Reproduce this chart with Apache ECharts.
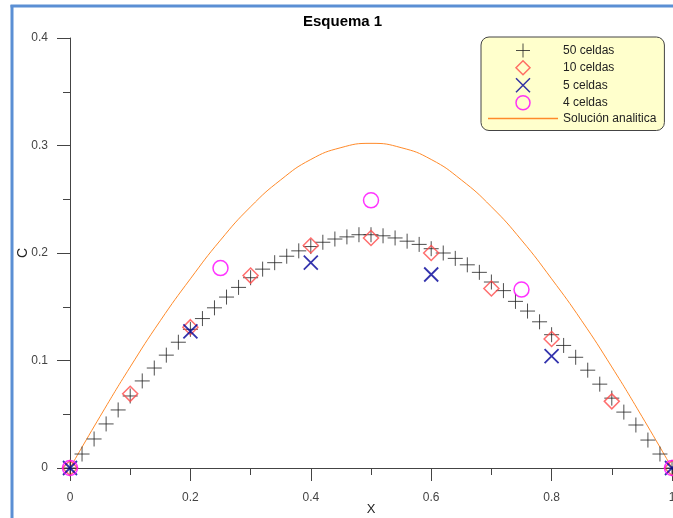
<!DOCTYPE html>
<html>
<head>
<meta charset="utf-8">
<title>Esquema 1</title>
<script src="https://cdn.jsdelivr.net/npm/echarts@6/dist/echarts.min.js"></script>
<style>
  html, body { margin: 0; padding: 0; background: #fff; }
  #chart { width: 673px; height: 518px; }
</style>
</head>
<body>
<div id="chart"></div>
<script>
// 50 celdas
const x50 = [0, 0.02, 0.04, 0.06, 0.08, 0.10, 0.12, 0.14, 0.16, 0.18,
  0.20, 0.22, 0.24, 0.26, 0.28, 0.30, 0.32, 0.34, 0.36, 0.38,
  0.40, 0.42, 0.44, 0.46, 0.48, 0.50, 0.52, 0.54, 0.56, 0.58,
  0.60, 0.62, 0.64, 0.66, 0.68, 0.70, 0.72, 0.74, 0.76, 0.78,
  0.80, 0.82, 0.84, 0.86, 0.88, 0.90, 0.92, 0.94, 0.96, 0.98, 1.00]
const c50 = [0, 0.013, 0.027, 0.041, 0.054, 0.067, 0.081, 0.093, 0.105, 0.117,
  0.129, 0.139, 0.149, 0.159, 0.168, 0.177, 0.185, 0.191, 0.197, 0.202,
  0.206, 0.210, 0.213, 0.215, 0.217, 0.217, 0.216, 0.214, 0.211, 0.208,
  0.204, 0.200, 0.195, 0.189, 0.182, 0.173, 0.165, 0.155, 0.146, 0.136,
  0.124, 0.114, 0.103, 0.091, 0.078, 0.065, 0.052, 0.040, 0.026, 0.013, 0]

// 10 celdas
const x10 = [0, 0.1, 0.2, 0.3, 0.4, 0.5, 0.6, 0.7, 0.8, 0.9, 1]
const c10 = [0, 0.069, 0.131, 0.179, 0.207, 0.214, 0.200, 0.167, 0.120, 0.062, 0]

// 5 celdas
const x5 = [0, 0.2, 0.4, 0.6, 0.8, 1]
const c5 = [0, 0.127, 0.191, 0.180, 0.104, 0]

// 4 celdas
const x4 = [0, 0.25, 0.5, 0.75, 1]
const c4 = [0, 0.186, 0.249, 0.166, 0]

// solucion analitica
const xAn = [0, 0.05, 0.10, 0.15, 0.20, 0.25, 0.30, 0.35, 0.40, 0.45, 0.50,
  0.55, 0.60, 0.65, 0.70, 0.75, 0.80, 0.85, 0.90, 0.95, 1.00]
const cAn = [0, 0.048, 0.094, 0.137, 0.176, 0.212, 0.243, 0.268, 0.287, 0.298, 0.302,
  0.298, 0.287, 0.268, 0.243, 0.212, 0.176, 0.137, 0.094, 0.048, 0]

const xTicks = [0, 0.2, 0.4, 0.6, 0.8, 1]
const yTicks = [0, 0.1, 0.2, 0.3, 0.4]

const pair = (xs, ys) => xs.map((x, i) => [x, ys[i]])

const font = 'Liberation Sans, Arial, sans-serif'
const plusIcon = 'path://M5,0L5,10M0,5L10,5'
const crossIcon = 'path://M0,0L10,10M10,0L0,10'
const diamondIcon = 'path://M5,0L10,5L5,10L0,5Z'
const lineIcon = 'path://M0,0L70,0L70,1.4L0,1.4Z'

const chart = echarts.init(document.getElementById('chart'))

const option = {
  backgroundColor: '#fff',
  animation: false,
  title: {
    text: 'Esquema 1',
    left: 298,
    top: 9,
    textStyle: { fontFamily: font, fontSize: 15, fontWeight: 'bold', color: '#000' }
  },
  legend: {
    orient: 'vertical',
    left: 481,
    top: 37,
    padding: [6, 8, 6, 7],
    itemWidth: 70,
    itemHeight: 14,
    itemGap: 2,
    backgroundColor: '#ffffcc',
    borderColor: '#444',
    borderWidth: 1,
    borderRadius: 8,
    textStyle: { fontFamily: font, fontSize: 12, color: '#222' },
    data: [
      { name: '50 celdas', icon: plusIcon, itemStyle: { borderWidth: 1 } },
      { name: '10 celdas', icon: diamondIcon, itemStyle: { borderWidth: 1.5 } },
      { name: '5 celdas', icon: crossIcon, itemStyle: { borderWidth: 1.5 } },
      { name: '4 celdas', icon: 'circle', itemStyle: { borderWidth: 1.5 } },
      { name: 'Solución analitica', icon: lineIcon, itemStyle: { color: '#ff8a2a', borderWidth: 0 } }
    ]
  },
  grid: { left: 70, right: 1, top: 38, bottom: 50, outerBoundsMode: 'none', containLabel: false },
  xAxis: {
    type: 'value',
    min: 0,
    max: 1,
    interval: 0.2,
    name: 'X',
    nameLocation: 'middle',
    nameGap: 35,
    nameMoveOverlap: false,
    nameTextStyle: { fontFamily: font, fontSize: 13, color: '#222' },
    axisLine: { onZero: false, lineStyle: { color: '#444', width: 1 } },
    axisTick: { length: 13, lineStyle: { color: '#444' } },
    minorTick: { show: true, splitNumber: 2, length: 7, lineStyle: { color: '#444' } },
    splitLine: { show: false },
    axisLabel: {
      margin: 24,
      fontFamily: font,
      fontSize: 12,
      color: '#444',
      hideOverlap: false,
      formatter: v => String(xTicks.find(t => Math.abs(t - v) < 1e-9) ?? v)
    }
  },
  yAxis: {
    type: 'value',
    min: 0,
    max: 0.4,
    interval: 0.1,
    name: 'C',
    nameLocation: 'middle',
    nameGap: 40,
    nameMoveOverlap: false,
    nameTextStyle: { fontFamily: font, fontSize: 14, color: '#222' },
    axisLine: { show: true, onZero: false, lineStyle: { color: '#444', width: 1 } },
    axisTick: { show: true, length: 13, lineStyle: { color: '#444' } },
    minorTick: { show: true, splitNumber: 2, length: 7, lineStyle: { color: '#444' } },
    splitLine: { show: false },
    axisLabel: {
      margin: 22,
      fontFamily: font,
      fontSize: 12,
      color: '#444',
      formatter: v => String(yTicks.find(t => Math.abs(t - v) < 1e-9) ?? v)
    }
  },
  graphic: [
    { type: 'line', z: 100, shape: { x1: 12, y1: 5, x2: 12, y2: 518 }, style: { stroke: '#5b8fd4', lineWidth: 3 } },
    { type: 'line', z: 100, shape: { x1: 10.5, y1: 6, x2: 673, y2: 6 }, style: { stroke: '#5b8fd4', lineWidth: 3 } }
  ],
  series: [
    {
      name: 'Solución analitica',
      type: 'line',
      data: pair(xAn, cAn),
      smooth: true,
      symbol: 'none',
      showSymbol: false,
      lineStyle: { color: '#ff8a2a', width: 1 },
      itemStyle: { color: '#ff8a2a' },
      z: 1
    },
    {
      name: '50 celdas',
      type: 'scatter',
      data: pair(x50, c50),
      symbol: plusIcon,
      symbolSize: 15,
      clip: false,
      itemStyle: { color: 'transparent', borderColor: '#222', borderWidth: 1 },
      z: 2
    },
    {
      name: '10 celdas',
      type: 'scatter',
      data: pair(x10, c10),
      symbol: diamondIcon,
      symbolSize: 15,
      clip: false,
      itemStyle: { color: 'transparent', borderColor: '#ff4a4a', borderWidth: 1.5 },
      z: 3
    },
    {
      name: '5 celdas',
      type: 'scatter',
      data: pair(x5, c5),
      symbol: crossIcon,
      symbolSize: 14,
      clip: false,
      itemStyle: { color: 'transparent', borderColor: '#000099', borderWidth: 1.8 },
      z: 4
    },
    {
      name: '4 celdas',
      type: 'scatter',
      data: pair(x4, c4),
      symbol: 'circle',
      symbolSize: 15,
      clip: false,
      itemStyle: { color: 'transparent', borderColor: '#ff00ff', borderWidth: 1.5 },
      z: 5
    }
  ]
}

chart.setOption(option)
</script>
</body>
</html>
